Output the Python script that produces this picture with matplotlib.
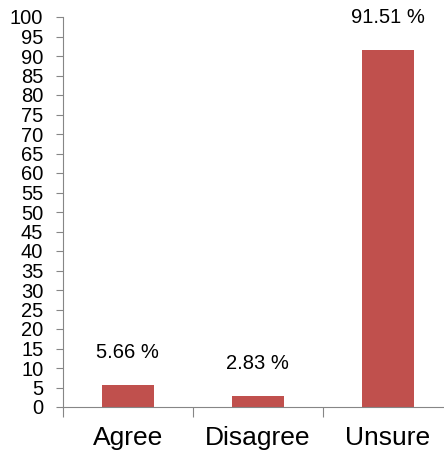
import numpy as np
import matplotlib.pyplot as plt

plt.rcParams['font.family'] = ['Liberation Sans', 'DejaVu Sans']

# data
categories = ['Agree', 'Disagree', 'Unsure']
percents = [5.66, 2.83, 91.51]

fig = plt.figure(figsize=(4.44, 4.54), dpi=100)
ax = fig.add_axes([62.7/444, 47/454, 1 - 62.7/444, 390/454])

x = np.arange(len(categories))
bars = ax.bar(x, percents, width=0.4, color='#C0504D')

for b, v in zip(bars, percents):
    ax.text(b.get_x() + b.get_width()/2, v + 6, f'{v:.2f} %',
            ha='center', va='bottom', fontsize=14.5)

ax.set_yticks(np.arange(0, 101, 5))
ax.tick_params(axis='y', labelsize=14.5, length=5, color='#868686', pad=9)

# category boundary ticks, labels in between
ax.set_xticks([-0.5, 0.5, 1.5, 2.5])
ax.set_xticklabels([])
ax.set_xticks(x, minor=True)
ax.set_xticklabels(categories, minor=True, fontsize=19)
ax.tick_params(axis='x', which='major', length=7, color='#868686')
ax.tick_params(axis='x', which='minor', length=0, pad=14)

# limits last, set_xticks would widen them
ax.set_ylim(0, 100)
ax.set_xlim(-0.5, 2.43)

for s in ['top', 'right']:
    ax.spines[s].set_visible(False)
for s in ['left', 'bottom']:
    ax.spines[s].set_color('#868686')

fig.savefig('out.png', dpi=100)
